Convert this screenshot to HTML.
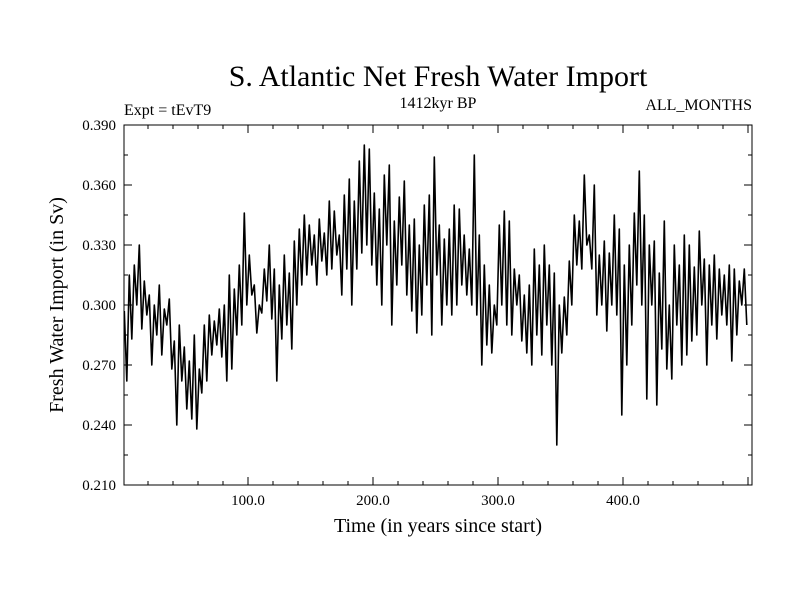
<!DOCTYPE html>
<html><head><meta charset="utf-8"><style>
body{margin:0;background:#fff}
svg text{font-family:"Liberation Serif",serif;fill:#000}
</style></head><body>
<svg id="chart" width="800" height="600" xmlns="http://www.w3.org/2000/svg">
<text x="438" y="86" font-size="30" text-anchor="middle">S. Atlantic Net Fresh Water Import</text>
<text x="124" y="115" font-size="16">Expt = tEvT9</text>
<text x="438" y="108" font-size="16" text-anchor="middle">1412kyr BP</text>
<text x="752" y="110" font-size="16" text-anchor="end">ALL_MONTHS</text>
<text x="438" y="532" font-size="20" text-anchor="middle">Time (in years since start)</text>
<text x="0" y="0" font-size="20" text-anchor="middle" transform="translate(63,305) rotate(-90)">Fresh Water Import (in Sv)</text>
<rect x="124" y="125" width="628" height="360" fill="none" stroke="#000" stroke-width="1"/>
<g id="ticks"></g>
<path id="series" fill="none" stroke="#000" stroke-width="1.6" stroke-linejoin="round"/>
</svg>
<script>
const years = [];
const values = [
0.297,0.262,0.315,0.283,0.320,0.300,0.330,0.288,0.312,0.295,
0.305,0.270,0.300,0.285,0.310,0.275,0.298,0.290,0.303,0.268,
0.282,0.240,0.290,0.262,0.279,0.248,0.272,0.243,0.285,0.238,
0.268,0.256,0.290,0.262,0.295,0.275,0.292,0.280,0.298,0.274,
0.300,0.262,0.315,0.268,0.308,0.285,0.320,0.290,0.346,0.300,
0.325,0.305,0.310,0.286,0.300,0.296,0.318,0.302,0.330,0.293,
0.318,0.262,0.310,0.283,0.325,0.290,0.316,0.278,0.332,0.300,
0.338,0.310,0.345,0.315,0.340,0.320,0.335,0.310,0.343,0.322,
0.336,0.315,0.352,0.318,0.347,0.325,0.335,0.305,0.355,0.318,
0.363,0.300,0.352,0.318,0.372,0.326,0.380,0.330,0.378,0.320,
0.356,0.310,0.348,0.300,0.365,0.330,0.370,0.290,0.342,0.310,
0.354,0.320,0.362,0.305,0.340,0.297,0.343,0.286,0.330,0.295,
0.350,0.310,0.355,0.285,0.374,0.315,0.340,0.290,0.333,0.300,
0.338,0.295,0.350,0.300,0.348,0.310,0.335,0.305,0.328,0.300,
0.375,0.295,0.335,0.270,0.320,0.280,0.310,0.276,0.300,0.290,
0.340,0.300,0.347,0.290,0.342,0.285,0.318,0.300,0.315,0.282,
0.305,0.276,0.310,0.270,0.328,0.285,0.320,0.275,0.330,0.290,
0.320,0.270,0.316,0.230,0.300,0.276,0.304,0.285,0.322,0.300,
0.345,0.320,0.342,0.318,0.365,0.330,0.335,0.318,0.360,0.295,
0.325,0.300,0.332,0.287,0.326,0.300,0.345,0.295,0.338,0.245,
0.320,0.270,0.330,0.290,0.346,0.310,0.367,0.300,0.345,0.253,
0.330,0.300,0.332,0.250,0.316,0.278,0.342,0.268,0.300,0.263,
0.330,0.290,0.320,0.270,0.335,0.275,0.330,0.282,0.319,0.285,
0.337,0.300,0.323,0.270,0.320,0.290,0.325,0.283,0.318,0.295,
0.315,0.290,0.320,0.272,0.318,0.285,0.312,0.300,0.318,0.290
];
for (let i = 0; i < values.length; i++) years.push(1 + 2 * i);
const xTicks = [100, 200, 300, 400];
const xTickLabels = ["100.0", "200.0", "300.0", "400.0"];
const yTicks = [0.210, 0.240, 0.270, 0.300, 0.330, 0.360, 0.390];
const yTickLabels = ["0.210", "0.240", "0.270", "0.300", "0.330", "0.360", "0.390"];

const X0 = 124, X1 = 752, Y0 = 125, Y1 = 485;
const xMin = 0.8, xMax = 503.2, yMin = 0.210, yMax = 0.390;
function xs(v){ return X0 + (v - xMin) / (xMax - xMin) * (X1 - X0); }
function ys(v){ return Y1 - (v - yMin) / (yMax - yMin) * (Y1 - Y0); }
const NS = "http://www.w3.org/2000/svg";
const g = document.getElementById("ticks");
function line(x1,y1,x2,y2,name){
  const l = document.createElementNS(NS,"line");
  l.setAttribute("x1",x1);l.setAttribute("y1",y1);l.setAttribute("x2",x2);l.setAttribute("y2",y2);
  l.setAttribute("stroke","#000");l.setAttribute("stroke-width","1");
  
  
  g.appendChild(l);
}
function text(x,y,s,anchor,name){
  const t = document.createElementNS(NS,"text");
  t.setAttribute("x",x);t.setAttribute("y",y);t.setAttribute("font-size","15");t.setAttribute("text-anchor",anchor);
  t.textContent = s;
  
  
  g.appendChild(t);
}
for (let v = 20; v < xMax; v += 20) {
  const major = v % 100 === 0, x = xs(v), L = major ? 8 : 4;
  line(x, Y1, x, Y1 - L, "x-tick");
  line(x, Y0, x, Y0 + L, "x-tick-top");
}
xTicks.forEach((v,i)=> text(xs(v), Y1 + 20, xTickLabels[i], "middle", "x-tick-label"));
for (let k = 0; k <= 12; k++) {
  const v = yMin + k * 0.015, y = ys(v), L = k % 2 === 0 ? 8 : 4;
  line(X0, y, X0 + L, y, "y-tick");
  line(X1, y, X1 - L, y, "y-tick-right");
}
yTicks.forEach((v,i)=> text(X0 - 8, ys(v) + 5, yTickLabels[i], "end", "y-tick-label"));
let d = "";
values.forEach((v,i)=>{ d += (i ? "L" : "M") + xs(years[i]).toFixed(1) + " " + ys(v).toFixed(1); });
document.getElementById("series").setAttribute("d", d);
</script>
</body></html>
